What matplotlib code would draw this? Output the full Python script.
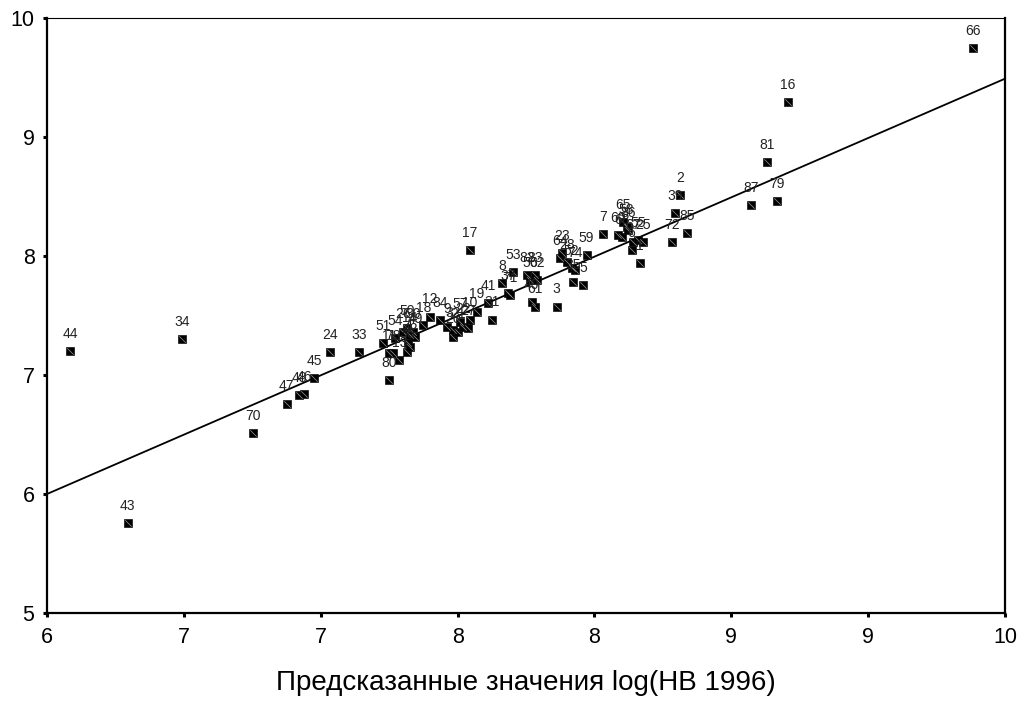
import matplotlib
matplotlib.use("Agg")
import matplotlib.pyplot as plt
import numpy as np
from matplotlib.path import Path

plt.rcParams['font.family'] = ['Liberation Sans', 'DejaVu Sans']

# ---- data ----
case_labels = ['44', '34', '43', '70', '47', '48', '46', '45', '24', '33',
               '80', '51', '11', '78', '13', '54', '26', '50', '30', '14',
               '4', '36', '42', '49', '18', '12', '84', '9', '20', '32',
               '21', '22', '27', '10', '19', '57', '41', '31', '17', '8',
               '37', '71', '53', '82', '56', '83', '62', '40', '61', '3',
               '64', '23', '28', '52', '74', '59', '35', '5', '7', '60',
               '68', '65', '58', '86', '67', '25', '55', '6', '1', '2',
               '39', '72', '85', '87', '79', '81', '16', '66']
predicted = [6.096, 6.565, 6.337, 6.861, 7.001, 7.052, 7.075, 7.116, 7.182, 7.304,
             7.429, 7.404, 7.429, 7.443, 7.471, 7.453, 7.488, 7.502, 7.529, 7.516,
             7.509, 7.503, 7.516, 7.537, 7.571, 7.599, 7.641, 7.669, 7.696, 7.696,
             7.717, 7.738, 7.759, 7.766, 7.794, 7.724, 7.843, 7.857, 7.766, 7.899,
             7.926, 7.933, 7.947, 8.003, 8.017, 8.038, 8.045, 8.024, 8.038, 8.128,
             8.142, 8.149, 8.170, 8.191, 8.205, 8.253, 8.198, 8.239, 8.323, 8.385,
             8.400, 8.406, 8.420, 8.427, 8.448, 8.490, 8.469, 8.441, 8.476, 8.643,
             8.622, 8.608, 8.671, 8.938, 9.047, 9.005, 9.094, 9.866]
observed = [7.204, 7.305, 5.754, 6.513, 6.759, 6.828, 6.840, 6.972, 7.191, 7.191,
            6.958, 7.269, 7.182, 7.182, 7.126, 7.308, 7.364, 7.392, 7.364, 7.336,
            7.266, 7.196, 7.238, 7.322, 7.420, 7.490, 7.462, 7.406, 7.322, 7.378,
            7.364, 7.406, 7.392, 7.462, 7.532, 7.448, 7.602, 7.465, 8.050, 7.771,
            7.687, 7.672, 7.868, 7.840, 7.798, 7.840, 7.798, 7.616, 7.574, 7.574,
            7.981, 8.023, 7.952, 7.897, 7.882, 8.008, 7.784, 7.756, 8.185, 8.176,
            8.162, 8.288, 8.246, 8.218, 8.120, 8.120, 8.134, 8.050, 7.939, 8.513,
            8.359, 8.120, 8.191, 8.429, 8.462, 8.792, 9.293, 9.744]
fit_x = [6.0, 10.0]
fit_y = [6.0, 9.49]
xtick_labels = ['6', '7', '7', '8', '8', '9', '9', '10']
ytick_values = [5, 6, 7, 8, 9, 10]
xlabel = 'Предсказанные значения log(HB 1996)'

# ---- figure ----
W, H = 1018, 715
fig = plt.figure(figsize=(W / 100, H / 100), dpi=100)
ax = fig.add_axes([47 / W, 1 - 613 / H, (1005 - 47) / W, (613 - 18) / H])

ax.plot(fit_x, fit_y, color='black', lw=1.3, zorder=2)

ax.plot(predicted, observed, linestyle='none', marker='s', markersize=6.0,
        mfc='black', mec='#111111', mew=0.5, zorder=3)
diag = Path([(-1, 1), (1, -1)], [Path.MOVETO, Path.LINETO])
ax.plot(predicted, observed, linestyle='none', marker=diag, markersize=4.6,
        mec='#9a9a9a', mew=0.5, zorder=4)

for lab, xv, yv in zip(case_labels, predicted, observed):
    ax.annotate(lab, (xv, yv), xytext=(0, 9.5), textcoords='offset points',
                ha='center', va='baseline', fontsize=10, color='#222222',
                zorder=5)

ax.set_xlim(6, 10)
ax.set_ylim(5, 10)
ax.set_xticks(np.linspace(6, 10, len(xtick_labels)))
ax.set_xticklabels(xtick_labels)
ax.set_yticks(ytick_values)
ax.set_yticklabels([str(v) for v in ytick_values])
ax.tick_params(direction='out', length=3, width=2.2, labelsize=15.5,
               colors='black')
ax.tick_params(axis='x', pad=7)
ax.tick_params(axis='y', pad=6)

for side in ['left', 'bottom', 'right']:
    ax.spines[side].set_linewidth(1.6)
ax.spines['top'].set_linewidth(0.8)

ax.set_xlabel(xlabel, fontsize=20)
ax.xaxis.set_label_coords(0.5, -0.118)
ax.xaxis.label.set_va('center')

fig.savefig('out.png', dpi=100, facecolor='white')
